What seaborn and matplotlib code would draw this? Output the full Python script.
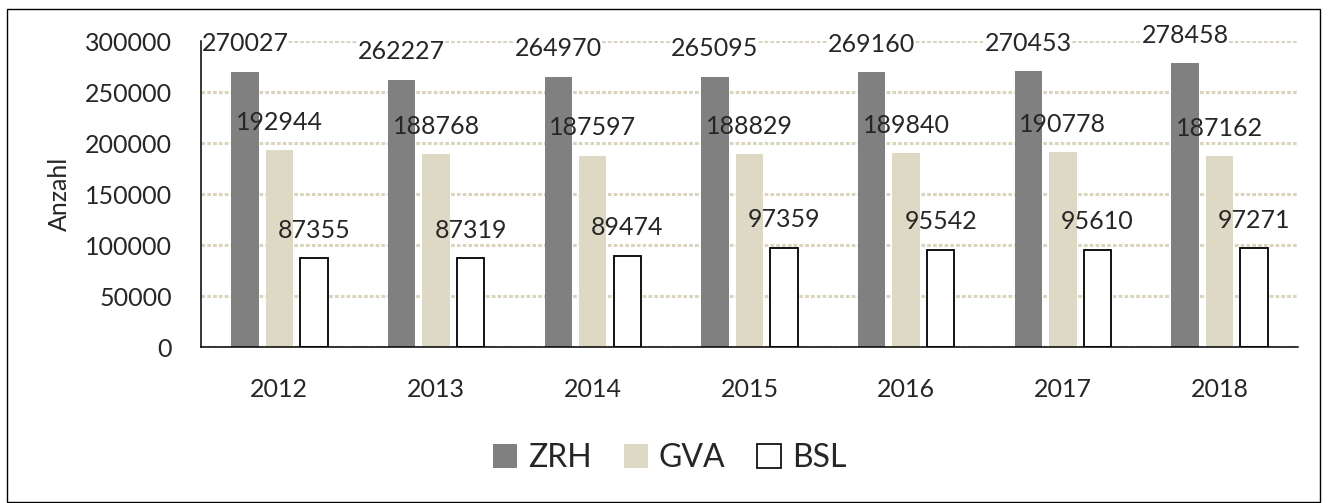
import pandas as pd
import seaborn as sns
import matplotlib.pyplot as plt
from matplotlib.patches import Patch, Rectangle

# Data
years = ['2012', '2013', '2014', '2015', '2016', '2017', '2018']
airports = ['ZRH', 'GVA', 'BSL']
zrh = [270027, 262227, 264970, 265095, 269160, 270453, 278458]
gva = [192944, 188768, 187597, 188829, 189840, 190778, 187162]
bsl = [87355, 87319, 89474, 97359, 95542, 95610, 97271]
y_ticks = [0, 50000, 100000, 150000, 200000, 250000, 300000]
colors = ['#808080', '#ddd9c4', '#ffffff']

df = pd.DataFrame({
    'Jahr': years * 3,
    'Flughafen': [a for a in airports for _ in years],
    'Anzahl': zrh + gva + bsl,
})

sns.set_theme(style='white')
plt.rcParams['font.family'] = ['Lato', 'DejaVu Sans']

fig = plt.figure(figsize=(13.33, 5.03), dpi=100)
ax = fig.add_axes([0.1508, 0.3101, 0.8229, 0.6083])

sns.barplot(data=df, x='Jahr', y='Anzahl', hue='Flughafen', hue_order=airports,
            palette=dict(zip(airports, colors)), saturation=1,
            width=0.66, gap=0.205, legend=False, ax=ax)

# bar edges: only BSL gets a black outline
for name, cont in zip(airports, ax.containers):
    for p in cont:
        if name == 'BSL':
            p.set_edgecolor('black')
            p.set_linewidth(1.3)
        else:
            p.set_edgecolor('none')
            p.set_linewidth(0)

# value labels above the bars
for name, cont, vals in zip(airports, ax.containers, [zrh, gva, bsl]):
    for p, v in zip(cont, vals):
        kw = {}
        if name == 'ZRH':
            kw['bbox'] = dict(fc='white', ec='none', pad=0)
        ax.annotate(str(v), (p.get_x() + p.get_width() / 2, p.get_height()),
                    xytext=(0, 20), textcoords='offset points',
                    ha='center', va='center', fontsize=18, zorder=2, **kw)

ax.set_ylim(0, 300000)
ax.set_yticks(y_ticks)
ax.set_yticklabels([str(t) for t in y_ticks])
ax.tick_params(axis='both', length=0, labelsize=18)
ax.tick_params(axis='y', pad=21)
ax.tick_params(axis='x', pad=22)
ax.set_xlabel('')
ax.set_ylabel('Anzahl', fontsize=18)
ax.yaxis.set_label_coords(-0.119, 0.5)

ax.yaxis.grid(True, color='#d9d4bb', lw=2.2, ls=(0, (1.2, 0.7)))
ax.set_axisbelow(True)
sns.despine(ax=ax)
for s in ['left', 'bottom']:
    ax.spines[s].set_color('black')
    ax.spines[s].set_linewidth(1.1)

# legend at the bottom
handles = [Patch(fc=c, ec='black' if a == 'BSL' else 'none', lw=1.2)
           for a, c in zip(airports, colors)]
fig.legend(handles, airports, loc='center', bbox_to_anchor=(0.5025, 0.0895),
           ncol=3, frameon=False, fontsize=23, handlelength=0.75,
           handleheight=0.75, handletextpad=0.35, columnspacing=1.0)

# chart border
fig.patches.append(Rectangle((0.00525, 0.002), 0.985, 0.980, transform=fig.transFigure,
                             fill=False, ec='black', lw=1))

fig.savefig('out.png', dpi=100)
